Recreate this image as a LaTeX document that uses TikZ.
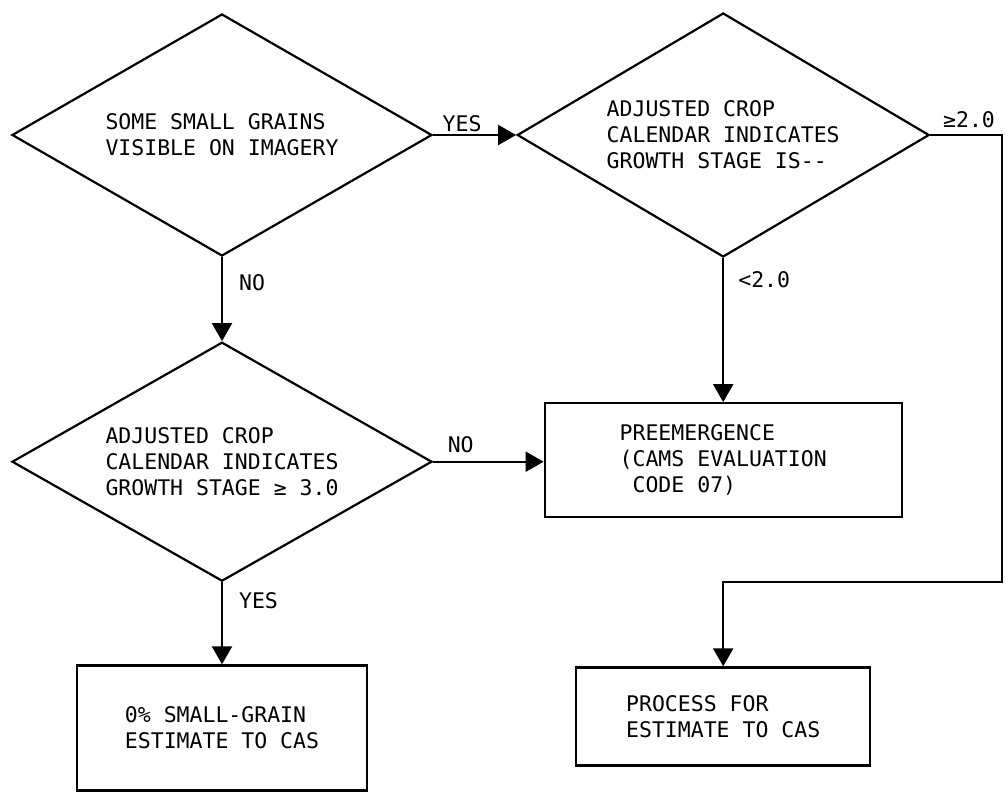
\documentclass[tikz,border=0pt]{standalone}
\usepackage{fontspec}
\newfontfamily\flowfont{DejaVu Sans Mono}
\usetikzlibrary{positioning,shapes.geometric,arrows.meta}

\begin{document}
\begin{tikzpicture}[
            x=1pt, y=-1pt,
            line width=2.2pt,
            font=\flowfont\fontsize{21.5}{26}\selectfont,
            decision/.style={draw, diamond, aspect=1.74, align=left, inner sep=0pt, minimum width=420pt, minimum height=242pt},
            box/.style={draw, rectangle, align=left, inner sep=0pt},
            arr/.style={-{Triangle[length=18pt,width=20pt]}},
            lbl/.style={inner sep=2pt}
        ]
        \useasboundingbox (0,0) rectangle (1008,793);

        \node[decision] (vis) at (222,135) {SOME SMALL GRAINS\\VISIBLE ON IMAGERY};
        \node[decision, right=83pt of vis, aspect=1.69, minimum width=412pt, minimum height=244pt] (cal2) {ADJUSTED CROP\\CALENDAR INDICATES\\GROWTH STAGE IS--};
        \node[decision, below=84pt of vis, aspect=1.76, minimum height=239pt] (cal3) {ADJUSTED CROP\\CALENDAR INDICATES\\GROWTH STAGE ≥ 3.0};
        \node[box, below=144pt of cal2, minimum width=357pt, minimum height=114pt] (pre) {PREEMERGENCE\\(CAMS EVALUATION\\\phantom{(}CODE 07)};
        \node[box, below=82pt of cal3, minimum width=290pt, minimum height=125pt] (zero) {0\% SMALL-GRAIN\\ESTIMATE TO CAS};
        \node[box, below=148pt of pre, minimum width=294pt, minimum height=98pt] (proc) {PROCESS FOR\\ESTIMATE TO CAS};

        \coordinate (turn) at (1002,582);

        \draw[arr] (vis.east) -- node[lbl, above, pos=0.35] {YES} (cal2.west);
        \draw[arr] (vis.south) -- node[lbl, right=14pt, pos=0.3] {NO} (cal3.north);
        \draw[arr] (cal2.south) -- node[lbl, right=12pt, pos=0.15] {<2.0} (pre.north);
        \draw[arr] (cal3.east) -- node[lbl, above=6pt, pos=0.25] {NO} (cal3.east -| pre.west);
        \draw[arr] (cal3.south) -- node[lbl, right=14pt, pos=0.23] {YES} (zero.north);
        \draw[arr] (cal2.east) -| node[lbl, above=4pt, pos=0.27] {≥2.0} (turn) -| (proc.north);
    \end{tikzpicture}
\end{document}
